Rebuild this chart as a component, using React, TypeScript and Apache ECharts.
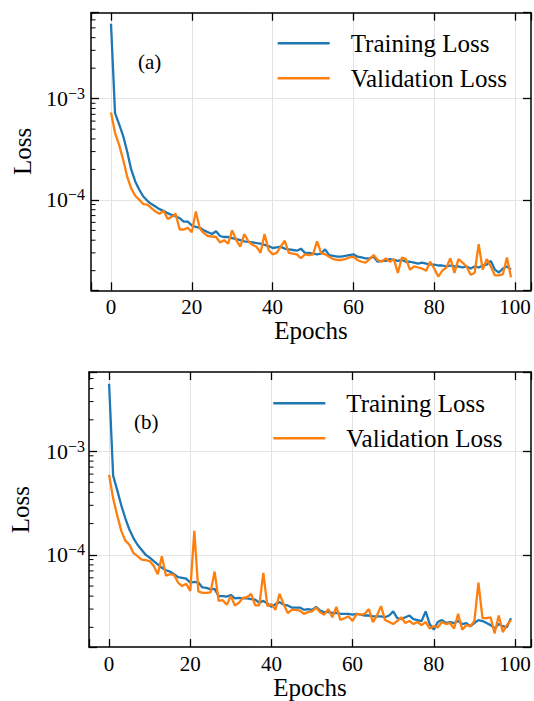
import { useEffect, useRef } from 'react';
import * as echarts from 'echarts';

const FONT = "'Liberation Serif', 'Times New Roman', serif";
const BLUE = '#1f77b4';
const ORANGE = '#ff7f0e';

const EPOCHS = Array.from({ length: 100 }, (_, i) => i);
const X_TICKS = [0, 20, 40, 60, 80, 100];
const X_MIN = -4.95;
const X_MAX = 103.95;
const Y_MINOR = [
  2e-5, 3e-5, 4e-5, 5e-5, 6e-5, 7e-5, 8e-5, 9e-5,
  2e-4, 3e-4, 4e-4, 5e-4, 6e-4, 7e-4, 8e-4, 9e-4,
  2e-3, 3e-3, 4e-3, 5e-3, 6e-3, 7e-3,
];
const SERIES_NAMES = ['Training Loss', 'Validation Loss'];
const PANEL_LABELS = ['(a)', '(b)'];

const TRAIN_A = [
  5.5e-3, 7.2e-4, 5.6e-4, 4.3e-4, 3.0e-4, 2.0e-4, 1.52e-4, 1.26e-4, 1.08e-4, 9.8e-5,
  9.1e-5, 8.6e-5, 8.1e-5, 7.8e-5, 7.4e-5, 7.1e-5, 6.9e-5, 6.6e-5, 6.1e-5, 6.1e-5,
  5.6e-5, 5.4e-5, 5.3e-5, 5.0e-5, 4.8e-5, 4.6e-5, 4.9e-5, 4.4e-5, 4.3e-5, 4.3e-5,
  4.2e-5, 4.1e-5, 4.0e-5, 3.9e-5, 3.85e-5, 3.8e-5, 3.75e-5, 3.7e-5, 3.6e-5, 3.5e-5,
  3.35e-5, 3.4e-5, 3.45e-5, 3.3e-5, 3.25e-5, 3.2e-5, 3.15e-5, 3.3e-5, 3.0e-5, 3.0e-5,
  2.95e-5, 2.9e-5, 2.95e-5, 3.25e-5, 2.85e-5, 2.8e-5, 2.75e-5, 2.75e-5, 2.8e-5, 2.85e-5,
  2.9e-5, 2.75e-5, 2.7e-5, 2.65e-5, 2.65e-5, 2.75e-5, 2.45e-5, 2.5e-5, 2.5e-5, 2.6e-5,
  2.55e-5, 2.5e-5, 2.55e-5, 2.45e-5, 2.45e-5, 2.4e-5, 2.35e-5, 2.4e-5, 2.35e-5, 2.3e-5,
  2.3e-5, 2.25e-5, 2.25e-5, 2.2e-5, 2.25e-5, 2.2e-5, 2.2e-5, 2.15e-5, 2.2e-5, 2.1e-5,
  2.2e-5, 2.15e-5, 2.25e-5, 2.3e-5, 2.5e-5, 2.05e-5, 1.92e-5, 2.1e-5, 2.2e-5, 2.05e-5,
];
const VAL_A = [
  7.3e-4, 4.6e-4, 3.5e-4, 2.5e-4, 1.7e-4, 1.3e-4, 1.1e-4, 1.0e-4, 9.1e-5, 9.0e-5,
  8.3e-5, 7.7e-5, 7.3e-5, 7.8e-5, 6.5e-5, 6.8e-5, 7.3e-5, 5.1e-5, 5.1e-5, 5.3e-5,
  4.8e-5, 7.7e-5, 5.2e-5, 4.7e-5, 4.4e-5, 4.35e-5, 4.3e-5, 3.8e-5, 4.0e-5, 3.7e-5,
  5.0e-5, 4.0e-5, 3.45e-5, 4.6e-5, 3.9e-5, 3.6e-5, 3.45e-5, 3.0e-5, 4.6e-5, 3.2e-5,
  2.9e-5, 3.0e-5, 3.45e-5, 3.95e-5, 3.0e-5, 2.95e-5, 2.9e-5, 2.65e-5, 2.9e-5, 2.85e-5,
  2.9e-5, 3.9e-5, 3.0e-5, 2.9e-5, 2.75e-5, 2.6e-5, 2.55e-5, 2.55e-5, 2.6e-5, 2.7e-5,
  2.75e-5, 2.55e-5, 2.45e-5, 2.4e-5, 2.6e-5, 2.85e-5, 2.55e-5, 2.45e-5, 2.65e-5, 2.45e-5,
  2.6e-5, 1.9e-5, 2.7e-5, 2.6e-5, 2.05e-5, 2.2e-5, 2.15e-5, 2.1e-5, 2.0e-5, 2.45e-5,
  2.1e-5, 1.75e-5, 2.0e-5, 2.15e-5, 2.65e-5, 1.9e-5, 2.6e-5, 2.4e-5, 2.2e-5, 1.82e-5,
  1.9e-5, 3.65e-5, 2.05e-5, 2.6e-5, 2.2e-5, 1.8e-5, 1.8e-5, 1.85e-5, 2.7e-5, 1.72e-5,
];
const TRAIN_B = [
  4.45e-3, 5.8e-4, 4.2e-4, 3.0e-4, 2.25e-4, 1.75e-4, 1.45e-4, 1.25e-4, 1.12e-4, 1.0e-4,
  9.4e-5, 8.7e-5, 8.1e-5, 7.5e-5, 7.1e-5, 6.9e-5, 6.5e-5, 6.1e-5, 6.0e-5, 5.9e-5,
  5.4e-5, 5.5e-5, 5.4e-5, 4.85e-5, 4.8e-5, 4.65e-5, 4.7e-5, 4.0e-5, 4.0e-5, 3.95e-5,
  4.1e-5, 3.8e-5, 3.85e-5, 3.8e-5, 3.8e-5, 3.75e-5, 3.7e-5, 3.45e-5, 3.6e-5, 3.4e-5,
  3.15e-5, 3.35e-5, 3.5e-5, 3.3e-5, 3.25e-5, 3.1e-5, 3.1e-5, 3.1e-5, 2.95e-5, 3.0e-5,
  2.95e-5, 3.15e-5, 2.9e-5, 2.8e-5, 2.8e-5, 2.75e-5, 2.75e-5, 2.7e-5, 2.7e-5, 2.7e-5,
  2.65e-5, 2.7e-5, 2.65e-5, 2.6e-5, 2.6e-5, 2.55e-5, 2.55e-5, 2.55e-5, 2.5e-5, 2.6e-5,
  2.85e-5, 2.45e-5, 2.4e-5, 2.5e-5, 2.6e-5, 2.4e-5, 2.35e-5, 2.3e-5, 2.85e-5, 2.15e-5,
  1.9e-5, 2.25e-5, 2.35e-5, 2.2e-5, 2.25e-5, 2.2e-5, 2.3e-5, 2.15e-5, 2.2e-5, 2.05e-5,
  2.2e-5, 2.35e-5, 2.3e-5, 2.2e-5, 2.1e-5, 1.95e-5, 2.15e-5, 2.05e-5, 2.0e-5, 2.45e-5,
];
const VAL_B = [
  5.9e-4, 3.5e-4, 2.4e-4, 1.7e-4, 1.37e-4, 1.25e-4, 1.04e-4, 9.7e-5, 9.0e-5, 8.9e-5,
  8.7e-5, 7.8e-5, 6.5e-5, 9.7e-5, 6.3e-5, 6.5e-5, 6.4e-5, 5.4e-5, 5.0e-5, 5.25e-5,
  4.5e-5, 1.7e-4, 4.45e-5, 4.3e-5, 4.3e-5, 4.35e-5, 6.9e-5, 3.6e-5, 3.65e-5, 3.3e-5,
  4.0e-5, 3.25e-5, 3.45e-5, 3.85e-5, 3.9e-5, 4.2e-5, 3.25e-5, 3.25e-5, 6.7e-5, 3.2e-5,
  3.35e-5, 2.95e-5, 4.2e-5, 3.35e-5, 2.75e-5, 2.95e-5, 2.95e-5, 2.9e-5, 2.7e-5, 2.8e-5,
  2.85e-5, 3.1e-5, 2.8e-5, 2.65e-5, 3.0e-5, 2.5e-5, 3.15e-5, 2.35e-5, 2.45e-5, 2.55e-5,
  2.3e-5, 2.7e-5, 2.65e-5, 2.7e-5, 3.0e-5, 2.25e-5, 2.6e-5, 3.2e-5, 2.35e-5, 2.25e-5,
  2.15e-5, 2.3e-5, 2.5e-5, 2.2e-5, 2.3e-5, 2.15e-5, 2.25e-5, 2.1e-5, 2.25e-5, 1.95e-5,
  2.05e-5, 2.0e-5, 2.25e-5, 2.15e-5, 2.2e-5, 1.95e-5, 2.7e-5, 1.9e-5, 2.1e-5, 2.05e-5,
  2.3e-5, 5.4e-5, 2.45e-5, 2.45e-5, 2.5e-5, 1.75e-5, 2.6e-5, 1.8e-5, 2.1e-5, 2.35e-5,
];

const PANELS = [
  {
    train: TRAIN_A, val: VAL_A, yMin: 1.28e-5, yMax: 7.06e-3,
    grid: { left: 91, top: 12.7, width: 442.5, height: 277.6 },
    legend: { left: 277.7, top: 30.8 },
    label: { x: 138, y: 61.7 },
    yLabelMargin: 6,
  },
  {
    train: TRAIN_B, val: VAL_B, yMin: 1.29e-5, yMax: 5.78e-3,
    grid: { left: 87.3, top: 372, width: 443.7, height: 278.3 },
    legend: { left: 273.3, top: 390.8 },
    label: { x: 134, y: 421.7 },
    yLabelMargin: 4,
  },
];

const frameLine = { show: true, onZero: false, lineStyle: { color: '#000', width: 1.5 } };
const majorTick = { show: true, inside: true, length: 8, lineStyle: { color: '#000', width: 1.3 } };
const gridLine = { show: true, showMinLine: false, showMaxLine: false, lineStyle: { color: '#e3e3e3', width: 1 } };

function yLabel(v: number) {
  const l = Math.log10(v);
  const e = Math.round(l);
  if (Math.abs(l - e) > 1e-6) return '';
  return `{b|10}{s|\u2212${-e}}`;
}

function buildOption() {
  const grid: any[] = [];
  const xAxis: any[] = [];
  const yAxis: any[] = [];
  const series: any[] = [];
  const legend: any[] = [];
  const graphic: any[] = [];

  PANELS.forEach((p, i) => {
    grid.push({ ...p.grid, containLabel: false });
    const xb = xAxis.length;
    xAxis.push({
      type: 'value', gridIndex: i, position: 'bottom', min: X_MIN, max: X_MAX, splitNumber: 5,
      axisLine: frameLine, axisTick: majorTick,
      axisLabel: {
        margin: 6, fontSize: 21, fontFamily: FONT, color: '#000',
        formatter: (v: number) => (X_TICKS.includes(v) ? String(v) : ''),
      },
      splitLine: gridLine,
      name: 'Epochs', nameLocation: 'middle', nameGap: 25,
      nameTextStyle: { fontSize: 25, fontFamily: FONT, color: '#000', verticalAlign: 'top' },
    });
    xAxis.push({
      type: 'value', gridIndex: i, position: 'top', min: X_MIN, max: X_MAX, splitNumber: 5,
      axisLine: frameLine, axisTick: majorTick, axisLabel: { show: false }, splitLine: { show: false },
    });
    const yl = yAxis.length;
    yAxis.push({
      type: 'log', logBase: 10, gridIndex: i, position: 'left', min: p.yMin, max: p.yMax,
      axisLine: frameLine, axisTick: majorTick,
      axisLabel: {
        margin: p.yLabelMargin, formatter: yLabel, color: '#000',
        fontSize: 22, fontFamily: FONT,
        rich: {
          b: { fontSize: 22, fontFamily: FONT, color: '#000', lineHeight: 26 },
          s: { fontSize: 16, fontFamily: FONT, color: '#000', lineHeight: 16, verticalAlign: 'top' },
        },
      },
      splitLine: gridLine,
      minorTick: { show: false },
      name: 'Loss', nameLocation: 'middle', nameGap: 56, nameRotate: 90,
      nameTextStyle: { fontSize: 25, fontFamily: FONT, color: '#000' },
    });
    yAxis.push({
      type: 'log', logBase: 10, gridIndex: i, position: 'right', min: p.yMin, max: p.yMax,
      axisLine: frameLine, axisTick: majorTick, axisLabel: { show: false }, splitLine: { show: false },
    });

    series.push({
      type: 'custom', xAxisIndex: xb, yAxisIndex: yl, silent: true, clip: false, z: 5,
      data: Y_MINOR.filter((v) => v > p.yMin && v < p.yMax).map((v) => [X_MIN, v]),
      renderItem: (_params: any, api: any) => {
        const pt = api.coord([api.value(0), api.value(1)]);
        return {
          type: 'line',
          shape: { x1: pt[0], y1: pt[1], x2: pt[0] + 4.5, y2: pt[1] },
          style: { stroke: '#000', lineWidth: 1 },
        };
      },
    });
    series.push({
      name: SERIES_NAMES[0], type: 'line', xAxisIndex: xb, yAxisIndex: yl,
      data: EPOCHS.map((e, k) => [e, p.train[k]]),
      showSymbol: false, symbol: 'none', color: BLUE,
      lineStyle: { color: BLUE, width: 2.3 }, z: 3,
    });
    series.push({
      name: SERIES_NAMES[1], type: 'line', xAxisIndex: xb, yAxisIndex: yl,
      data: EPOCHS.map((e, k) => [e, p.val[k]]),
      showSymbol: false, symbol: 'none', color: ORANGE,
      lineStyle: { color: ORANGE, width: 2.3 }, z: 4,
    });

    legend.push({
      data: SERIES_NAMES, orient: 'vertical', left: p.legend.left, top: p.legend.top,
      itemWidth: 52, itemHeight: 2.6, itemGap: 10, icon: 'rect', padding: 0,
      selectedMode: false,
      textStyle: { fontSize: 25, fontFamily: FONT, color: '#000', lineHeight: 25, padding: [0, 0, 0, 16] },
    });

    graphic.push({
      type: 'text', x: p.label.x, y: p.label.y,
      style: { text: PANEL_LABELS[i], fontSize: 21, fontFamily: FONT, fill: '#000', verticalAlign: 'middle' },
    });
  });

  return { animation: false, backgroundColor: '#fff', grid, xAxis, yAxis, series, legend, graphic };
}

export default function App() {
  const ref = useRef<HTMLDivElement>(null);
  useEffect(() => {
    if (!ref.current) return;
    const chart = echarts.init(ref.current, undefined, { renderer: 'svg' });
    chart.setOption(buildOption() as any);
    return () => chart.dispose();
  }, []);
  return (
    <div
      ref={ref}
      style={{ position: 'absolute', left: 0, top: 0, width: 534, height: 701, background: '#fff' }}
    />
  );
}
